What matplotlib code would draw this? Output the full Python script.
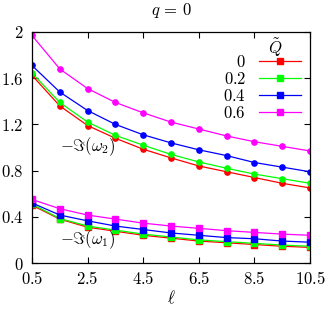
import numpy as np
import matplotlib
matplotlib.use('Agg')
import matplotlib.pyplot as plt
from matplotlib.lines import Line2D

plt.rcParams['mathtext.fontset'] = 'cm'
plt.rcParams['font.family'] = 'serif'
plt.rcParams['font.serif'] = ['DejaVu Serif']

# angular momentum l
ell = [0.5, 1.5, 2.5, 3.5, 4.5, 5.5, 6.5, 7.5, 8.5, 9.5, 10.5]
Q_labels = ['0', '0.2', '0.4', '0.6']
colors = ['#ff0000', '#00ff00', '#0000ff', '#ff00ff']

# -Im(omega_2), upper branch
w2_Q0 = [1.625, 1.36, 1.19, 1.08, 0.985, 0.91, 0.84, 0.79, 0.74, 0.69, 0.65]
w2_Q02 = [1.645, 1.39, 1.22, 1.105, 1.02, 0.94, 0.875, 0.82, 0.77, 0.73, 0.69]
w2_Q04 = [1.71, 1.48, 1.32, 1.20, 1.11, 1.04, 0.98, 0.93, 0.87, 0.83, 0.79]
w2_Q06 = [1.97, 1.68, 1.51, 1.39, 1.30, 1.22, 1.16, 1.10, 1.05, 1.01, 0.97]

# -Im(omega_1), lower branch
w1_Q0 = [0.50, 0.38, 0.31, 0.275, 0.24, 0.215, 0.19, 0.175, 0.16, 0.145, 0.135]
w1_Q02 = [0.51, 0.385, 0.32, 0.285, 0.25, 0.225, 0.20, 0.185, 0.17, 0.155, 0.145]
w1_Q04 = [0.52, 0.415, 0.365, 0.32, 0.29, 0.26, 0.24, 0.22, 0.21, 0.19, 0.18]
w1_Q06 = [0.55, 0.47, 0.415, 0.38, 0.345, 0.32, 0.30, 0.28, 0.265, 0.25, 0.24]

w2 = [w2_Q0, w2_Q02, w2_Q04, w2_Q06]
w1 = [w1_Q0, w1_Q02, w1_Q04, w1_Q06]

xticks = [0.5, 2.5, 4.5, 6.5, 8.5, 10.5]
yticks = [0, 0.4, 0.8, 1.2, 1.6, 2]

fig = plt.figure(figsize=(3.29, 3.09), dpi=100)
ax = fig.add_axes([32/329, 46/309, 278/329, 231/309])

fs = 12
for i in range(4):
    ax.plot(ell, w2[i], color=colors[i], lw=0.9, marker='o', ms=3.8)
    ax.plot(ell, w1[i], color=colors[i], lw=0.9, marker='s', ms=3.8)

ax.set_xlim(0.5, 10.5)
ax.set_ylim(0, 2)
ax.set_xticks(xticks)
ax.set_yticks(yticks)
ax.set_xticklabels(['$' + str(v) + '$' for v in xticks], fontsize=fs)
ax.set_yticklabels(['$' + str(v) + '$' for v in yticks], fontsize=fs)
ax.tick_params(direction='in', top=True, right=True, length=4, width=0.8, pad=6)
for s in ax.spines.values():
    s.set_linewidth(0.9)

ax.set_title(r'$q\,=\,0$', fontsize=fs, pad=12)
ax.set_xlabel(r'$\ell$', fontsize=fs, labelpad=1)

ax.text(1.5, 1.01, r'$-\Im(\omega_2)$', fontsize=fs, va='center', ha='left')
ax.text(1.5, 0.2, r'$-\Im(\omega_1)$', fontsize=fs, va='center', ha='left')

# legend title drawn on its own, entries below it
ax.text(0.874, 0.935, r'$\tilde{Q}$', fontsize=fs, ha='center', va='center',
        transform=ax.transAxes)
handles = [Line2D([], [], color=colors[i], lw=0.9, marker='s', ms=3.8) for i in range(4)]
leg = ax.legend(handles, ['$' + q + '$' for q in Q_labels],
                loc='upper right', bbox_to_anchor=(0.968, 0.905), frameon=False,
                markerfirst=False, fontsize=fs, handlelength=2.5,
                labelspacing=0.0, borderaxespad=0, borderpad=0, handletextpad=0.8)
for t in leg.get_texts():
    t.set_ha('right')
leg._legend_box.align = 'right'

fig.savefig('out.png', dpi=100)
